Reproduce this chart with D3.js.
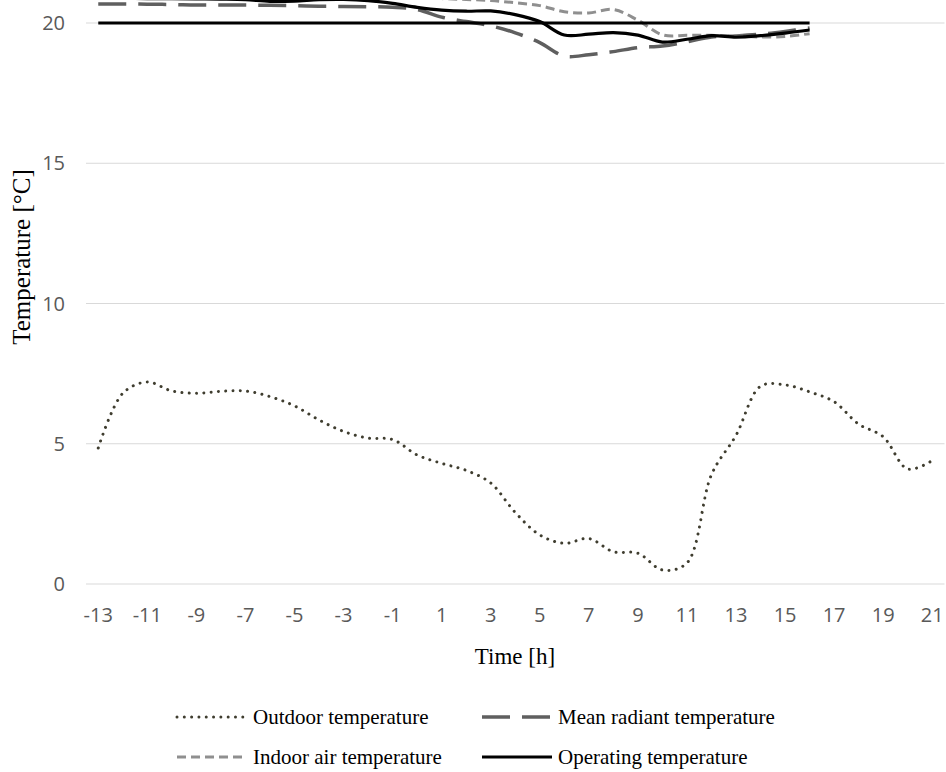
<!DOCTYPE html>
<html>
<head>
<meta charset="utf-8">
<script src="https://cdn.jsdelivr.net/npm/d3@7"></script>
<style>
    body { margin: 0; background: #fff; }
    .tick-label { font-family: "Open Sans", sans-serif; font-size: 20px; fill: #595959; }
    .serif { font-family: "Liberation Serif", "DejaVu Serif", serif; fill: #000; }
</style>
</head>
<body>
<div id="chart"></div>
<script>
// hours on the category axis
const hours = [-13, -12, -11, -10, -9, -8, -7, -6, -5, -4, -3, -2, -1, 0, 1, 2, 3, 4, 5, 6, 7, 8, 9, 10, 11, 12, 13, 14, 15, 16, 17, 18, 19, 20, 21];
const xTickLabels = [-13, -11, -9, -7, -5, -3, -1, 1, 3, 5, 7, 9, 11, 13, 15, 17, 19, 21];
const yTicks = [0, 5, 10, 15, 20];

// outdoor runs -13..21, indoor series run -13..16
const outdoor = [4.85, 6.8, 7.2, 6.88, 6.8, 6.87, 6.88, 6.68, 6.35, 5.85, 5.44, 5.2, 5.15, 4.6, 4.3, 4.05, 3.6, 2.55, 1.75, 1.45, 1.62, 1.15, 1.1, 0.5, 0.75, 3.9, 5.3, 7.05, 7.1, 6.85, 6.5, 5.7, 5.25, 4.1, 4.4];
const meanRadiant = [20.68, 20.68, 20.67, 20.66, 20.64, 20.64, 20.64, 20.63, 20.62, 20.6, 20.59, 20.58, 20.56, 20.48, 20.21, 20.05, 19.9, 19.65, 19.3, 18.82, 18.87, 18.98, 19.12, 19.18, 19.33, 19.5, 19.54, 19.6, 19.7, 19.82];
const indoorAir = [20.98, 20.98, 20.98, 20.97, 20.97, 20.97, 20.96, 20.96, 20.96, 20.95, 20.95, 20.95, 20.94, 20.92, 20.87, 20.84, 20.8, 20.72, 20.62, 20.4, 20.36, 20.48, 20.1, 19.58, 19.56, 19.56, 19.54, 19.5, 19.52, 19.62];
const operating = [20.88, 20.88, 20.87, 20.87, 20.86, 20.85, 20.83, 20.77, 20.78, 20.83, 20.84, 20.8, 20.7, 20.56, 20.46, 20.42, 20.43, 20.3, 20.05, 19.57, 19.6, 19.66, 19.57, 19.32, 19.42, 19.55, 19.5, 19.55, 19.64, 19.75];
const setpoint = [20, 20, 20, 20, 20, 20, 20, 20, 20, 20, 20, 20, 20, 20, 20, 20, 20, 20, 20, 20, 20, 20, 20, 20, 20, 20, 20, 20, 20, 20];

const seriesNames = ["Outdoor temperature", "Mean radiant temperature", "Indoor air temperature", "Operating temperature"];

const width = 946, height = 772;

const svg = d3.select("#chart").append("svg")
    .attr("width", width)
    .attr("height", height);

svg.append("rect").attr("width", width).attr("height", height).attr("fill", "#fff");

// scales (category axis: points sit in the middle of each hour band)
const x = d3.scaleLinear().domain([-13.5, 21.5]).range([86, 944.5]);
const y = d3.scaleLinear().domain([0, 20]).range([584, 23]);

// gridlines
svg.append("g")
    .selectAll("line")
    .data(yTicks)
    .enter().append("line")
    .attr("x1", x(-13.5))
    .attr("x2", x(21.5))
    .attr("y1", d => y(d))
    .attr("y2", d => y(d))
    .attr("stroke", "#d9d9d9")
    .attr("stroke-width", 1);

// y tick labels
svg.append("g")
    .selectAll("text")
    .data(yTicks)
    .enter().append("text")
    .attr("class", "tick-label")
    .attr("x", 65)
    .attr("y", d => y(d) + 7)
    .attr("text-anchor", "end")
    .text(d => d);

// x tick labels
svg.append("g")
    .selectAll("text")
    .data(xTickLabels)
    .enter().append("text")
    .attr("class", "tick-label")
    .attr("x", d => x(d))
    .attr("y", 622)
    .attr("text-anchor", "middle")
    .text(d => d);

// axis titles
svg.append("text")
    .attr("class", "serif")
    .attr("x", 515)
    .attr("y", 664)
    .attr("text-anchor", "middle")
    .style("font-size", "23px")
    .text("Time [h]");

svg.append("text")
    .attr("class", "serif")
    .attr("transform", "translate(30,257) rotate(-90)")
    .attr("text-anchor", "middle")
    .style("font-size", "25px")
    .text("Temperature [°C]");

const line = d3.line()
    .x(d => x(d[0]))
    .y(d => y(d[1]))
    .curve(d3.curveCatmullRom);

const styles = [
    { stroke: "#3f3d2f", width: 3, dash: "0.01,7.3", cap: "round" },
    { stroke: "#5f5f5f", width: 3.5, dash: "28,12", cap: "butt" },
    { stroke: "#8f8f8f", width: 3, dash: "9,5", cap: "butt" },
    { stroke: "#000", width: 3.2, dash: null, cap: "butt" }
];

const allSeries = [outdoor, meanRadiant, indoorAir, operating];

allSeries.forEach(function (vals, i) {
    let pts = vals.map((v, j) => [hours[j], v]);
    svg.append("path")
        .datum(pts)
        .attr("d", line)
        .attr("fill", "none")
        .attr("stroke", styles[i].stroke)
        .attr("stroke-width", styles[i].width)
        .attr("stroke-dasharray", styles[i].dash)
        .attr("stroke-linecap", styles[i].cap);
});

// setpoint line (no legend entry)
svg.append("path")
    .datum(setpoint.map((v, j) => [hours[j], v]))
    .attr("d", d3.line().x(d => x(d[0])).y(d => y(d[1])))
    .attr("fill", "none")
    .attr("stroke", "#000")
    .attr("stroke-width", 2.8);

// legend, two columns
const legendPos = [
    { x: 177, y: 717 }, { x: 482, y: 717 },
    { x: 177, y: 757 }, { x: 482, y: 757 }
];
const legendOrder = [0, 1, 2, 3];

const legend = svg.append("g");
legendOrder.forEach(function (i, k) {
    let p = legendPos[k];
    legend.append("line")
        .attr("x1", p.x).attr("x2", p.x + 70)
        .attr("y1", p.y).attr("y2", p.y)
        .attr("stroke", styles[i].stroke)
        .attr("stroke-width", styles[i].width)
        .attr("stroke-dasharray", styles[i].dash)
        .attr("stroke-linecap", styles[i].cap);
    legend.append("text")
        .attr("class", "serif")
        .attr("x", p.x + 76)
        .attr("y", p.y + 7)
        .style("font-size", "21px")
        .text(seriesNames[i]);
});
</script>
</body>
</html>
